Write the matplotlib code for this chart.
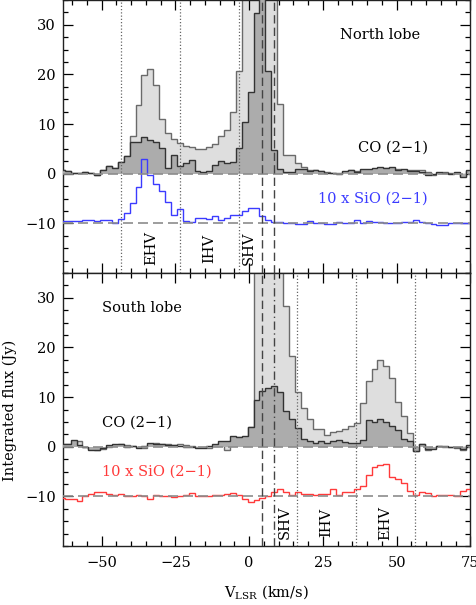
import numpy as np
import matplotlib
matplotlib.use('Agg')
import matplotlib.pyplot as plt
from matplotlib.ticker import MultipleLocator

plt.rcParams['font.family'] = 'DejaVu Serif'
plt.rcParams['mathtext.fontset'] = 'dejavuserif'

# velocity channels (km/s), 2 km/s wide
v_edges = np.arange(-64.5, 76, 2.0)

# North lobe: CO (2-1) integrated flux (Jy), wide area (light) and inner area (dark)
north_co_wide = [0.7, 0.5, 0.2, 0.1, 0.3, 0.2, -0.3, 0.8, 1.6, 1.1,
                 2.3, 3.5, 7.5, 13.9, 19.8, 21.0, 17.8, 11.1, 8.3, 6.9,
                 6.2, 5.6, 5.3, 5.0, 5.0, 5.3, 6.0, 7.5, 8.9, 12.5,
                 20.6, 38, 55, 75, 80, 60, 40, 14.0, 3.8, 3.8,
                 2.1, 1.3, 0.8, 0.7, 0.6, 0.3, 0.1, 0.1, 0.4, 0.7,
                 0.6, 0.5, 0.7, 0.9, 1.2, 1.2, 1.1, 1.0, 0.8, 0.7,
                 0.7, 0.7, 0.4, -0.2, 0.2, 0.3, 0.1, 0.2, -0.5, 0.6]
north_co_inner = [0.7, 0.5, 0.2, 0.1, 0.3, 0.2, -0.3, 0.8, 1.6, 1.1,
                  2.3, 3.5, 6.3, 6.3, 7.4, 6.8, 6.3, 5.2, 1.1, 3.7,
                  1.5, 2.1, 2.7, 0.5, 0.3, 0.5, 1.7, 2.6, 2.1, 2.3,
                  5.2, 10.5, 16.4, 32.3, 45, 20.6, 4.8, 1.0, 0.4, 0.4,
                  1.0, 0.9, 0.5, 0.8, 0.6, 0.1, 0.2, 0.0, 0.6, 0.8,
                  0.4, 0.9, 1.0, 1.1, 1.3, 1.1, 1.3, 0.8, 0.9, 0.6,
                  0.5, 0.3, -0.3, -0.1, 0.3, 0.2, 0.0, 0.4, -0.6, 0.7]
# 10 x SiO (2-1)
north_sio = [0.4, 0.4, 0.5, 0.5, 0.6, 0.6, 0.5, 0.6, 0.6, 0.0,
             0.8, 2.1, 4.1, 7.3, 13.0, 9.8, 7.9, 6.6, 4.3, 1.6,
             2.8, 0.5, 0.3, 1.1, 1.0, 0.8, 1.5, 0.6, 1.1, 1.6,
             1.7, 2.4, 3.1, 3.1, 1.4, 0.7, 0.2, 0.2, 0.1, 0.0,
             -0.1, -0.2, 0.5, 0.1, 0.0, -0.1, -0.1, 0.3, 0.0, 0.0,
             0.7, 0.1, 0.5, 0.2, 0.2, 0.1, 0.0, 0.0, 0.3, 0.3,
             0.6, 0.2, 0.1, -0.2, -0.3, -0.3, 0.0, 0.0, 0.1, 0.1]

# South lobe
south_co_wide = [0.5, 0.6, 0.5, 1.2, 0.0, -0.4, -0.6, -0.5, -0.1, 0.3,
                 0.5, 0.3, 0.1, 0.0, -0.3, 0.4, 0.8, 0.5, 0.5, 0.4,
                 0.5, 0.3, 0.1, 0.0, -0.1, -0.3, 0.2, 0.7, -0.7, 1.3,
                 2.0, 2.0, 4.0, 45, 70, 85, 70, 45, 28.3, 18.3,
                 11.0, 7.9, 5.5, 3.6, 3.5, 2.3, 3.0, 3.2, 3.5, 4.2,
                 4.8, 8.8, 13.2, 15.6, 17.4, 16.2, 13.8, 9.1, 6.1, 2.8,
                 -0.8, 0.5, -0.6, -0.3, 0.1, 0.0, 0.0, -0.2, -0.6, 0.2]
south_co_inner = [0.6, 0.6, 1.3, 0.3, -0.1, -0.6, -0.7, -0.2, 0.3, 0.6,
                  0.5, 0.0, 0.2, -0.2, 0.1, 0.8, 0.6, 0.6, 0.4, 0.3,
                  0.2, 0.0, 0.0, -0.2, -0.3, 0.1, 0.6, 1.2, 1.1, 2.2,
                  2.0, 2.2, 4.0, 9.5, 11.2, 11.9, 12.3, 11.0, 7.2, 5.5,
                  3.8, 1.5, 1.1, 0.7, 1.1, 0.7, 1.1, 1.3, 0.9, 0.7,
                  0.7, 1.4, 5.3, 4.9, 5.6, 4.9, 4.2, 3.4, 1.5, 1.1,
                  -0.9, 0.6, -0.5, -0.4, 0.2, 0.1, -0.1, 0.0, -0.5, 0.3]
south_sio = [-0.4, -0.5, -0.5, -0.9, 0.1, 0.5, 0.9, 0.8, 0.5, 0.2,
             0.4, 0.1, 0.0, 0.2, 0.0, -0.5, 0.2, 0.1, 0.0, -0.1,
             0.0, 0.2, 0.6, 0.1, 0.0, 0.0, 0.2, 0.3, 0.4, 0.6,
             0.2, -0.5, -1.1, -0.7, -0.4, 0.0, 0.8, 1.5, 0.8, 0.3,
             0.8, 0.5, 0.5, 0.3, 0.5, 0.4, 1.5, 0.2, 0.9, 0.9,
             1.5, 2.0, 4.4, 5.9, 6.4, 6.5, 3.9, 3.5, 2.6, 1.1,
             0.3, 0.8, 0.7, 0.1, 0.3, 0.2, 0.3, 0.0, 1.0, 1.5]

sio_offset = -10
v_dashed = 4.4
v_mid = 8.6
north_bounds = [-43.3, -23.3, -3.4]
south_bounds = [16.4, 36.3, 56.3]

fig = plt.figure(figsize=(4.77, 6.05), dpi=100)
ax1 = fig.add_axes([0.132, 0.5488, 0.854, 0.4512])
ax2 = fig.add_axes([0.132, 0.0975, 0.854, 0.4512], sharex=ax1)


def draw_panel(ax, wide, inner, sio, sio_color):
    ax.stairs(wide, v_edges, fill=True, color='#dedede', baseline=0, zorder=1)
    ax.stairs(wide, v_edges, color='#6a6a6a', lw=1.0, baseline=None, zorder=2)
    ax.stairs(inner, v_edges, fill=True, color='#acacac', baseline=0, zorder=3)
    ax.stairs(inner, v_edges, color='#333333', lw=1.0, baseline=None, zorder=4)
    ax.stairs(np.array(sio) + sio_offset, v_edges, color=sio_color, lw=1.0,
              baseline=None, zorder=4)
    for y in (0, -10):
        ax.axhline(y, color='#8c8c8c', lw=1.2, ls=(0, (6, 3)), zorder=5)
    ax.set_ylim(-20, 35)
    ax.set_xlim(-63.1, 75)
    ax.xaxis.set_major_locator(MultipleLocator(25))
    ax.xaxis.set_minor_locator(MultipleLocator(5))
    ax.yaxis.set_major_locator(MultipleLocator(10))
    ax.yaxis.set_minor_locator(MultipleLocator(2.5))
    ax.set_yticks([-10, 0, 10, 20, 30])
    ax.tick_params(which='both', direction='in', top=True, right=True,
                   width=0.9, labelsize=10.5)
    ax.tick_params(which='major', length=7, pad=5)
    ax.tick_params(which='minor', length=3.5)
    for s in ax.spines.values():
        s.set_linewidth(1.0)
        s.set_color('#222222')


draw_panel(ax1, north_co_wide, north_co_inner, north_sio, '#3b3bff')
draw_panel(ax2, south_co_wide, south_co_inner, south_sio, '#ff3a3a')
ax1.tick_params(labelbottom=False)
ax2.tick_params(axis='x', pad=7)

# velocity markers
for ax in (ax1, ax2):
    ax.axvline(v_dashed, color='#444444', lw=1.0, ls=(0, (6, 3)), zorder=6)
ax1.axvline(v_mid, color='#444444', lw=1.0, ls=(0, (6, 3)), zorder=6)
ax2.axvline(v_mid, color='#444444', lw=1.0, ls=(0, (6, 2.5, 1, 2.5)), zorder=6)
for v in north_bounds:
    ax1.axvline(v, color='#666666', lw=0.9, ls=(0, (1, 1.6)), zorder=6)
for v in south_bounds:
    ax2.axvline(v, color='#666666', lw=0.9, ls=(0, (1, 1.6)), zorder=6)

fs = 10.5
ax1.text(30.8, 28, 'North lobe', fontsize=fs, ha='left', va='center')
ax1.text(60.6, 5.2, 'CO (2\u22121)', fontsize=fs, ha='right', va='center')
ax1.text(60.6, -5.1, '10 x SiO (2\u22121)', fontsize=fs, ha='right', va='center',
         color='#3b3bff')
ax2.text(-50, 28, 'South lobe', fontsize=fs, ha='left', va='center')
ax2.text(-50, 4.8, 'CO (2\u22121)', fontsize=fs, ha='left', va='center')
ax2.text(-50, -5.0, '10 x SiO (2\u22121)', fontsize=fs, ha='left', va='center',
         color='#ff3a3a')

for lbl, v in zip(['EHV', 'IHV', 'SHV'], [-33.3, -13.5, 0.0]):
    ax1.text(v, -15, lbl, fontsize=fs, rotation=90, ha='center', va='center')
for lbl, v in zip(['SHV', 'IHV', 'EHV'], [12.2, 26.3, 46.0]):
    ax2.text(v, -15.3, lbl, fontsize=fs, rotation=90, ha='center', va='center')

fig.text(10 / 477, 1 - 410 / 605, 'Integrated flux (Jy)', fontsize=fs,
         rotation=90, ha='center', va='center')
fig.text(266 / 477, 1 - 592 / 605, r'V$_{\rm LSR}$ (km/s)', fontsize=fs,
         ha='center', va='center')

fig.savefig('out.png', dpi=100)
